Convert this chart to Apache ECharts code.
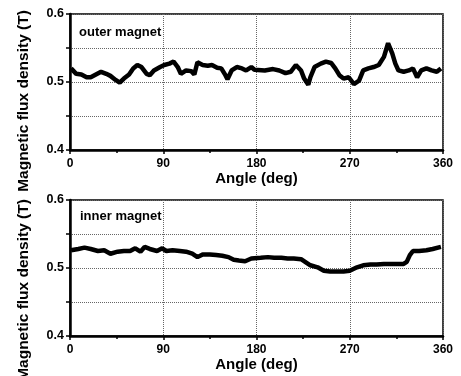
<!DOCTYPE html>
<html>
<head>
    <meta charset="utf-8" />
    <title>Magnetic flux density vs angle</title>
    <script src="https://cdn.jsdelivr.net/npm/echarts@6/dist/echarts.min.js"></script>
    <style type="text/css">
        html,
        body {
            width: 100%;
            height: 100%;
            margin: 0;
            background: #fff;
        }

        #chart {
            width: 461px;
            height: 376px;
        }
    </style>
</head>
<body>
    <div id="chart"></div>
    <script>
        // angle (deg) and flux density (T)
        var outerAngle = [1, 6, 11, 16, 20, 25, 30, 35, 39, 44, 48, 52, 57, 61, 65, 69, 74, 77, 81, 87,
            91, 96, 100, 104, 107, 112, 117, 120, 123, 128, 133, 137, 142, 146, 150, 152, 156, 161, 166, 170,
            175, 178, 188, 196, 202, 208, 213, 218, 223, 226, 230, 232, 236, 242, 247, 252, 256, 260, 264, 269,
            274, 279, 283, 288, 293, 298, 303, 307, 311, 314, 317, 322, 327, 331, 335, 339, 344, 349, 354, 358];
        var outerB = [0.520, 0.512, 0.511, 0.507, 0.507, 0.511, 0.515, 0.512, 0.509, 0.503, 0.499, 0.505, 0.511, 0.520, 0.525, 0.522, 0.512, 0.510, 0.517, 0.522,
            0.525, 0.527, 0.530, 0.522, 0.512, 0.517, 0.516, 0.511, 0.529, 0.525, 0.524, 0.525, 0.521, 0.520, 0.510, 0.504, 0.517, 0.522, 0.520, 0.517,
            0.522, 0.518, 0.517, 0.519, 0.517, 0.513, 0.515, 0.525, 0.517, 0.505, 0.496, 0.507, 0.522, 0.527, 0.530, 0.528, 0.520, 0.510, 0.505, 0.507,
            0.497, 0.502, 0.517, 0.520, 0.522, 0.525, 0.537, 0.557, 0.542, 0.527, 0.517, 0.515, 0.517, 0.520, 0.507, 0.517, 0.520, 0.517, 0.515, 0.520];

        var innerAngle = [1, 8, 14, 20, 27, 33, 39, 46, 52, 58, 63, 68, 72, 77, 84, 89, 93, 99, 106, 112,
            118, 123, 128, 135, 141, 147, 153, 158, 163, 169, 175, 184, 191, 197, 204, 210, 216, 223, 228, 232,
            239, 245, 251, 258, 264, 270, 277, 283, 290, 296, 303, 309, 315, 322, 325, 328, 331, 337, 344, 350, 358];
        var innerB = [0.526, 0.528, 0.530, 0.528, 0.525, 0.526, 0.521, 0.524, 0.525, 0.525, 0.529, 0.524, 0.531, 0.528, 0.525, 0.529, 0.525, 0.526, 0.525, 0.524,
            0.521, 0.516, 0.520, 0.520, 0.519, 0.518, 0.516, 0.512, 0.511, 0.510, 0.514, 0.515, 0.516, 0.515, 0.515, 0.514, 0.514, 0.513, 0.508, 0.504,
            0.501, 0.496, 0.495, 0.495, 0.495, 0.496, 0.501, 0.504, 0.505, 0.505, 0.506, 0.506, 0.506, 0.506, 0.509, 0.519, 0.525, 0.525, 0.526, 0.528, 0.531];

        var xTicks = [0, 90, 180, 270, 360];
        var yTicks = [0.4, 0.5, 0.6];
        var panelNames = ['outer magnet', 'inner magnet'];
        var yName = 'Magnetic flux density (T)';
        var xName = 'Angle (deg)';

        function pairs(xs, ys) {
            return xs.map(function (x, i) { return [x, ys[i]]; });
        }

        var font = '"Liberation Sans", Arial, sans-serif';

        function xAxisFor(idx) {
            return {
                gridIndex: idx,
                type: 'value',
                min: xTicks[0],
                max: xTicks[xTicks.length - 1],
                interval: 90,
                name: xName,
                nameLocation: 'middle',
                nameGap: 15,
                nameTextStyle: { color: '#000', fontSize: 15, fontWeight: 'bold', fontFamily: font },
                axisLine: { show: true, lineStyle: { color: '#000', width: 2.5 } },
                axisTick: { show: true, length: 4, lineStyle: { color: '#000', width: 1.5 } },
                minorTick: { show: true, splitNumber: 2, length: 3, lineStyle: { color: '#000', width: 1.5 } },
                axisLabel: { color: '#000', fontSize: 12, fontWeight: 'bold', fontFamily: font, margin: 8 },
                splitLine: { show: true, lineStyle: { color: '#666', type: 'dotted', width: 1 } }
            };
        }

        function yAxisFor(idx) {
            return {
                gridIndex: idx,
                type: 'value',
                min: yTicks[0],
                max: yTicks[yTicks.length - 1],
                interval: 0.05,
                axisLine: { show: true, lineStyle: { color: '#000', width: 2.5 } },
                axisTick: { show: true, length: 4, lineStyle: { color: '#000', width: 1.5 } },
                axisLabel: {
                    color: '#000', fontSize: 12.5, fontWeight: 'bold', fontFamily: font, margin: 6,
                    formatter: function (v) {
                        var hit = yTicks.some(function (t) { return Math.abs(t - v) < 1e-6; });
                        return hit ? v.toFixed(1) : '';
                    }
                },
                splitLine: { show: true, lineStyle: { color: '#666', type: 'dotted', width: 1 } }
            };
        }

        function seriesFor(idx, data) {
            return {
                type: 'line',
                xAxisIndex: idx,
                yAxisIndex: idx,
                data: data,
                showSymbol: false,
                lineStyle: { color: '#000', width: 4.5 },
                itemStyle: { color: '#000' },
                animation: false
            };
        }

        var chart = echarts.init(document.getElementById('chart'), null, { renderer: 'canvas' });

        var option = {
            backgroundColor: '#fff',
            animation: false,
            grid: [
                { left: 70, right: 18, top: 14, height: 136, show: true, borderColor: '#000', borderWidth: 1.5, containLabel: false },
                { left: 70, right: 18, top: 200, height: 136, show: true, borderColor: '#000', borderWidth: 1.5, containLabel: false }
            ],
            title: [
                { text: panelNames[0], left: 74, top: 21, textStyle: { color: '#000', fontSize: 13, fontWeight: 'bold', fontFamily: font } },
                { text: panelNames[1], left: 75, top: 205, textStyle: { color: '#000', fontSize: 13, fontWeight: 'bold', fontFamily: font } }
            ],
            xAxis: [xAxisFor(0), xAxisFor(1)],
            yAxis: [yAxisFor(0), yAxisFor(1)],
            series: [
                seriesFor(0, pairs(outerAngle, outerB)),
                seriesFor(1, pairs(innerAngle, innerB))
            ],
            graphic: [
                {
                    type: 'text', x: 24, y: 101, rotation: Math.PI / 2,
                    style: { text: yName, font: 'bold 15.5px ' + font, fill: '#000', align: 'center', verticalAlign: 'middle' }
                },
                {
                    type: 'text', x: 24, y: 290, rotation: Math.PI / 2,
                    style: { text: yName, font: 'bold 15.5px ' + font, fill: '#000', align: 'center', verticalAlign: 'middle' }
                }
            ]
        };

        chart.setOption(option);
    </script>
</body>
</html>
